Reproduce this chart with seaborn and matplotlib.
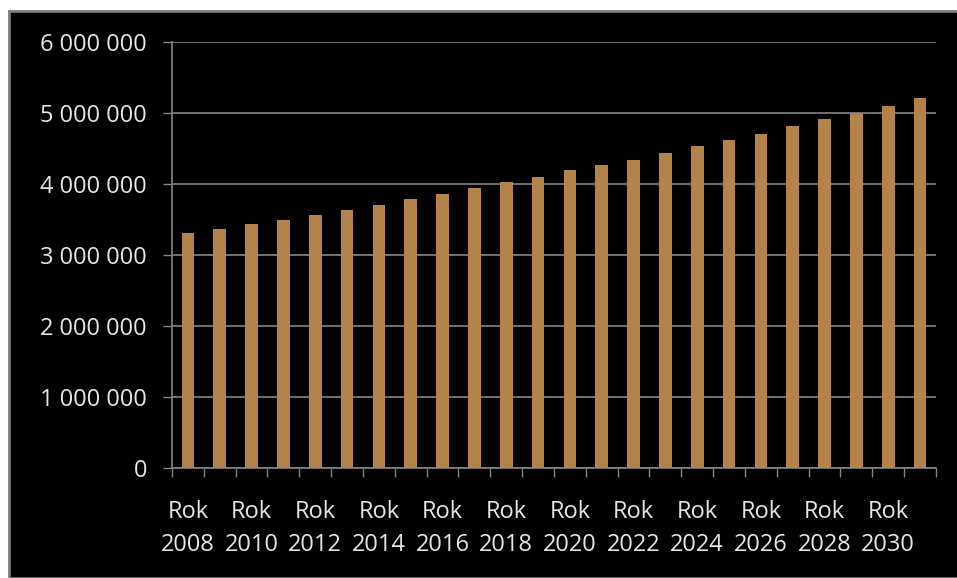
import pandas as pd
import seaborn as sns
import matplotlib.pyplot as plt
from matplotlib.patches import Rectangle
from matplotlib.ticker import FuncFormatter

years = list(range(2008, 2032))
values = [3310000, 3360000, 3430000, 3490000, 3560000, 3640000, 3710000, 3790000,
          3860000, 3950000, 4030000, 4100000, 4200000, 4270000, 4340000, 4440000,
          4530000, 4620000, 4710000, 4820000, 4910000, 5000000, 5100000, 5210000]
y_ticks = [0, 1000000, 2000000, 3000000, 4000000, 5000000, 6000000]

df = pd.DataFrame({'rok': [str(y) for y in years], 'wartosc': values})

sns.set_style('dark')
plt.rcParams['font.family'] = ['Open Sans', 'DejaVu Sans']

text_col = '#e6e6e6'
grid_col = '#858585'

fig = plt.figure(figsize=(9.57, 5.78), dpi=100, facecolor='white')
# black panel with grey frame, like the original slide
fig.add_artist(Rectangle((9 / 957, 0), 1, 1 - 11 / 578, transform=fig.transFigure,
                         facecolor='black', edgecolor='#7a7a7a', linewidth=2,
                         zorder=-10))

ax = fig.add_axes([0.1797, 0.1903, 0.978 - 0.1797, 0.9273 - 0.1903])
ax.set_facecolor('black')

sns.barplot(data=df, x='rok', y='wartosc', color='#b4834a', width=0.4,
            saturation=1, linewidth=0, ax=ax, zorder=3)

ax.set_ylim(0, 6000000)
ax.set_xlim(-0.5, len(years) - 0.5)
ax.set_yticks(y_ticks)
ax.yaxis.set_major_formatter(FuncFormatter(lambda v, p: f'{int(v):,}'.replace(',', ' ')))

# labels every second year, ticks on category boundaries
label_pos = list(range(0, len(years), 2))
ax.set_xticks(label_pos)
ax.set_xticklabels([f'Rok\n{years[i]}' for i in label_pos], linespacing=1.5)
ax.set_xticks([i - 0.5 for i in range(len(years) + 1)], minor=True)

ax.tick_params(axis='x', which='major', bottom=True, length=0, pad=23,
               colors=text_col, labelsize=17)
ax.tick_params(axis='x', which='minor', bottom=True, length=6.5, width=1,
               color=grid_col, direction='out')
ax.tick_params(axis='y', left=True, length=6.5, width=1, pad=11.5,
               colors=text_col, labelsize=17)
ax.tick_params(axis='y', color=grid_col)

ax.grid(axis='y', color=grid_col, linewidth=1.2, zorder=0)
ax.grid(axis='x', visible=False)
ax.set_axisbelow(True)

for side in ['top', 'right']:
    ax.spines[side].set_visible(False)
for side in ['left', 'bottom']:
    ax.spines[side].set_visible(True)
    ax.spines[side].set_color(grid_col)
    ax.spines[side].set_linewidth(1.2)

ax.set_xlabel('')
ax.set_ylabel('')

plt.savefig('out.png', dpi=100, facecolor='white')
plt.close()
